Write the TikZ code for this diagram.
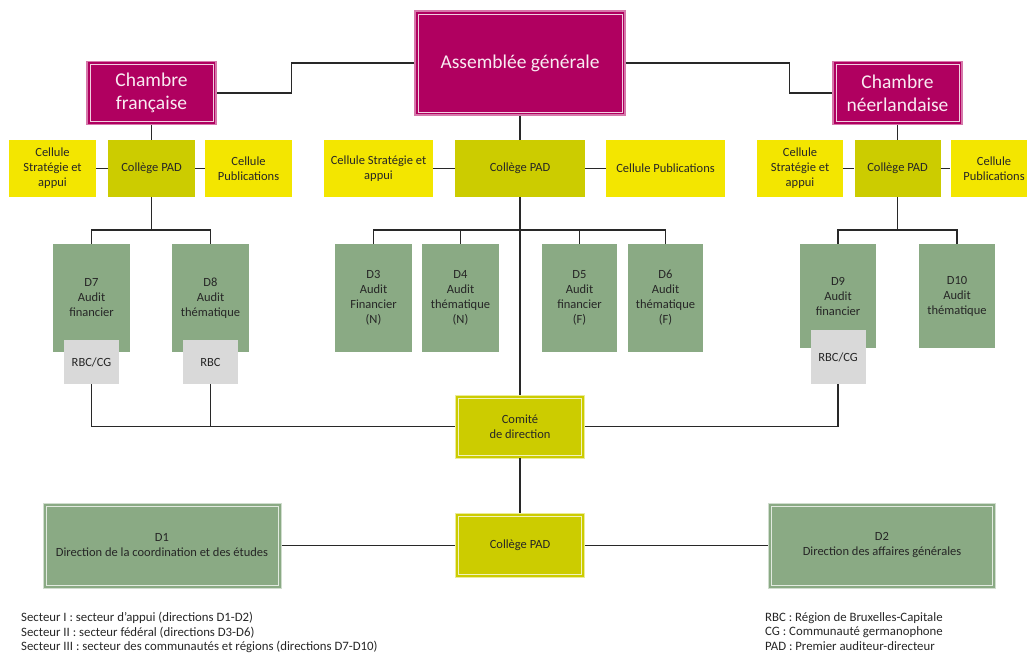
\documentclass[tikz,border=0pt]{standalone}
\usepackage{fontspec}
\setmainfont{Carlito}
\definecolor{agfill}{RGB}{176,0,96}
\definecolor{agedge}{RGB}{214,120,170}
\definecolor{cellfill}{RGB}{243,230,0}
\definecolor{olivefill}{RGB}{204,204,0}
\definecolor{dirfill}{RGB}{138,170,132}
\definecolor{greyfill}{RGB}{217,217,217}
\definecolor{txt}{RGB}{38,38,38}
\definecolor{linec}{RGB}{40,40,40}
\tikzset{
	box/.style={inner sep=0pt, align=center, text=txt,
		font=\fontsize{12.5}{15}\selectfont},
	inframe/.style={path picture={\draw[#1, line width=0.9pt]
		([shift={(3pt,-3pt)}]path picture bounding box.north west) rectangle
		([shift={(-3pt,3pt)}]path picture bounding box.south east);}},
	chamber/.style={box, fill=agfill, draw=agedge, line width=1.2pt,
		inframe=agedge!35!white, text=agedge!15!white,
		font=\fontsize{19.5}{23}\selectfont},
	cell/.style={box, fill=cellfill},
	college/.style={box, fill=olivefill},
	comite/.style={box, fill=olivefill, draw=olivefill!40!white, line width=0.8pt,
		inframe=olivefill!25!white},
	dir/.style={box, fill=dirfill, minimum width=77, minimum height=108},
	bigdir/.style={box, fill=dirfill, draw=dirfill!40!white, line width=1pt,
		inframe=dirfill!25!white, minimum height=85},
	region/.style={box, fill=greyfill, minimum width=55, minimum height=44},
	legend/.style={inner sep=0pt, align=left, anchor=north west, text=txt,
		font=\fontsize{12.8}{14.6}\selectfont},
	link/.style={draw=linec, line width=1.1pt}
}
\begin{document}
\begin{tikzpicture}[x=1pt, y=-1pt]
	\useasboundingbox (0,0) rectangle (1027,654);
	% top level
	\node[chamber, minimum width=210, minimum height=104] at (520,63)(ag){Assemblée générale};
	\node[chamber, minimum width=129, minimum height=63] at (151.5,93)(chfr){Chambre\\française};
	\node[chamber, minimum width=129, minimum height=63] at (897.5,93)(chnl){Chambre\\néerlandaise};
	\path[link] (ag.west) -- ++(-123,0) |- (chfr.east);
	\path[link] (ag.east) -- ++(164,0) |- (chnl.west);

	% cells and colleges
	\node[cell, minimum width=87, minimum height=57] at (52.5,168.5)(csfr){Cellule\\Stratégie et\\appui};
	\node[college, minimum width=87, minimum height=57] at (151.5,168.5)(cpfr){Collège PAD};
	\node[cell, minimum width=87, minimum height=57] at (248.5,168.5)(cbfr){Cellule\\Publications};
	\node[cell, minimum width=109, minimum height=57] at (378.5,168.5)(csc){Cellule Stratégie et\\appui};
	\node[college, minimum width=130, minimum height=57] at (520,168.5)(cpc){Collège PAD};
	\node[cell, minimum width=119, minimum height=57] at (665.5,168.5)(cbc){Cellule Publications};
	\node[cell, minimum width=86, minimum height=57] at (800,168.5)(csnl){Cellule\\Stratégie et\\appui};
	\node[college, minimum width=86, minimum height=57] at (897.5,168.5)(cpnl){Collège PAD};
	\node[cell, minimum width=87, minimum height=57] at (994,168.5)(cbnl){Cellule\\Publications};
	\path[link] (chfr) -- (cpfr) (csfr) -- (cpfr) -- (cbfr);
	\path[link] (ag) -- (cpc) (csc) -- (cpc) -- (cbc);
	\path[link] (chnl) -- (cpnl) (csnl) -- (cpnl) -- (cbnl);

	% directions
	\node[dir] at (91.5,298)(d7){D7\\Audit\\financier};
	\node[dir] at (210.5,298)(d8){D8\\Audit\\thématique};
	\node[dir] at (373.5,298)(d3){D3\\Audit\\Financier\\(N)};
	\node[dir] at (460.5,298)(d4){D4\\Audit\\thématique\\(N)};
	\node[dir, minimum width=75] at (579.5,298)(d5){D5\\Audit\\financier\\(F)};
	\node[dir, minimum width=75] at (665.5,298)(d6){D6\\Audit\\thématique\\(F)};
	\node[dir, minimum width=76, minimum height=104] at (838,296)(d9){D9\\Audit\\financier};
	\node[dir, minimum width=76, minimum height=104] at (957,296)(d10){D10\\Audit\\thématique};
	\node[region] at (91.5,362)(r7){RBC/CG};
	\node[region] at (210.5,362)(r8){RBC};
	\node[region, minimum height=54] at (838,357)(r9){RBC/CG};

	\coordinate (jfr) at (151.5,230);
	\coordinate (jc) at (520,230);
	\coordinate (jnl) at (897.5,230);
	\path[link] (cpfr) -- (jfr) (d7.north) |- (jfr) -| (d8.north);
	\path[link] (cpnl) -- (jnl) (d9.north) |- (jnl) -| (d10.north);
	\path[link] (d3.north) |- (jc) -| (d6.north)
		(d4.north) -- (d4.north |- jc)
		(d5.north) -- (d5.north |- jc);

	% management
	\node[comite, minimum width=129, minimum height=63] at (520,426.5)(cd){Comité\\de direction};
	\node[comite, minimum width=129, minimum height=64] at (520,545.5)(cpb){Collège PAD};
	\node[bigdir, minimum width=238] at (162,545.5)(d1){D1\\Direction de la coordination et des études};
	\node[bigdir, minimum width=227] at (882,545.5)(d2){D2\\Direction des affaires générales};
	\path[link] (cpc) -- (cd) -- (cpb);
	\path[link] (r7.south) |- (cd.west) (r8.south) -- (r8.south |- cd.west);
	\path[link] (r9.south) |- (cd.east);
	\path[link] (d1) -- (cpb) -- (d2);

	% legend
	\node[legend] at (21,612)(leg1){Secteur I : secteur d’appui (directions D1-D2)\\
		Secteur II : secteur fédéral (directions D3-D6)\\
		Secteur III : secteur des communautés et régions (directions D7-D10)};
	\node[legend] at (765,612)(leg2){RBC : Région de Bruxelles-Capitale\\
		CG : Communauté germanophone\\
		PAD : Premier auditeur-directeur};
\end{tikzpicture}
\end{document}
